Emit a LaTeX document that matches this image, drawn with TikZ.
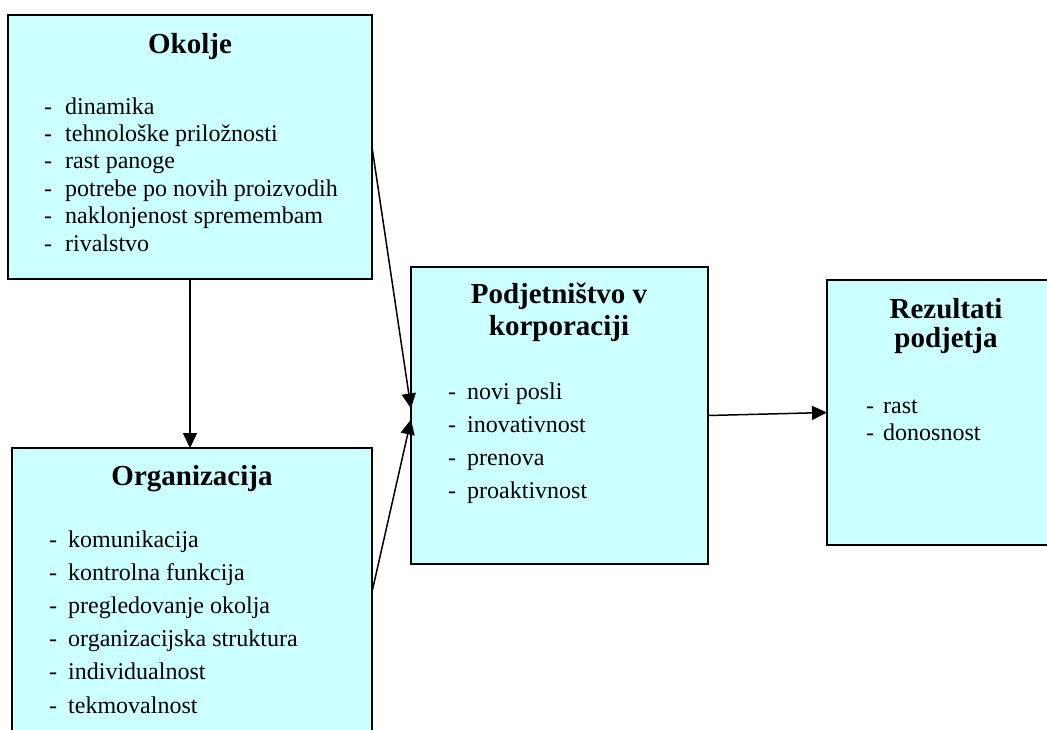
\documentclass[tikz,border=0pt]{standalone}
\usepackage{fontspec}
\setmainfont{Liberation Serif}
\usetikzlibrary{arrows.meta,calc}
\definecolor{boxfill}{HTML}{CCFFFF}
% a list entry: a dash in a box of fixed width, then the text
\newcommand{\itemdash}[2]{\makebox[#1][l]{-}#2}

\begin{document}
\begin{tikzpicture}[x=1pt,y=-1pt,
  panel/.style={draw=black, fill=boxfill, line width=1.6pt, anchor=north west,
                inner sep=0pt, outer sep=0pt},
  heading/.style={font=\bfseries\fontsize{29}{#1}\selectfont, align=center, anchor=base},
  heading/.default=32,
  itemlist/.style={font=\fontsize{24}{#1}\selectfont, align=left, anchor=base west, inner sep=0pt},
  link/.style={line width=1.5pt, -{Triangle[length=15pt,width=14pt]}}
]
\clip (0,0) rectangle (1047,729);

% boxes
\node[panel, minimum width=364pt, minimum height=264pt] (okolje) at (8,15) {};
\node[panel, minimum width=360pt, minimum height=288pt] (org) at (12,448) {};
\node[panel, minimum width=297pt, minimum height=297pt] (pod) at (411,267) {};
\node[panel, minimum width=238pt, minimum height=265pt] (rez) at (827,280) {};

% headings (a multi-line node sits on the baseline of its last line)
\node[heading] (okoljeTitle) at (190,53) {Okolje};
\node[heading] (orgTitle) at (192,485) {Organizacija};
\node[heading=32] (podTitle) at (559,335) {Podjetništvo v\\korporaciji};
\node[heading=29] (rezTitle) at (946,347) {Rezultati\\podjetja};

% lists
\node[itemlist=27.4] (okoljeItems) at (44,251) {%
  \itemdash{21pt}{dinamika}\\
  \itemdash{21pt}{tehnološke priložnosti}\\
  \itemdash{21pt}{rast panoge}\\
  \itemdash{21pt}{potrebe po novih proizvodih}\\
  \itemdash{21pt}{naklonjenost spremembam}\\
  \itemdash{21pt}{rivalstvo}};
\node[itemlist=33.2] (orgItems) at (49,713) {%
  \itemdash{19pt}{komunikacija}\\
  \itemdash{19pt}{kontrolna funkcija}\\
  \itemdash{19pt}{pregledovanje okolja}\\
  \itemdash{19pt}{organizacijska struktura}\\
  \itemdash{19pt}{individualnost}\\
  \itemdash{19pt}{tekmovalnost}};
\node[itemlist=33] (podItems) at (448,498) {%
  \itemdash{19pt}{novi posli}\\
  \itemdash{19pt}{inovativnost}\\
  \itemdash{19pt}{prenova}\\
  \itemdash{19pt}{proaktivnost}};
\node[itemlist=27] (rezItems) at (866,440) {%
  \itemdash{17pt}{rast}\\
  \itemdash{17pt}{donosnost}};

% connectors
\draw[link] (okolje.south) -- (okolje.south |- org.north);
\draw[link] (okolje.east) -- ($(pod.west)+(0,-7)$);
\draw[link] (org.east) -- ($(pod.west)+(0,4)$);
\draw[link] (pod.east) -- (rez.west);
\end{tikzpicture}
\end{document}
